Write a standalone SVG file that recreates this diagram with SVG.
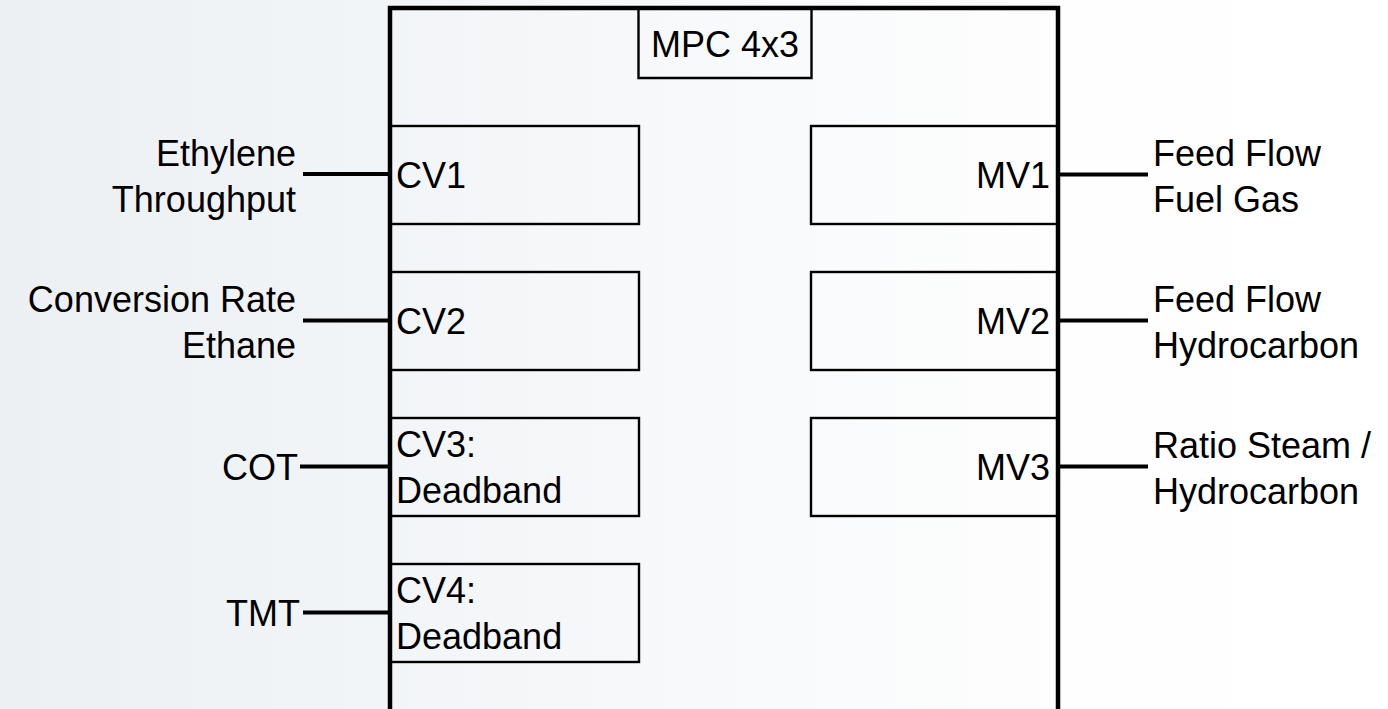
<svg xmlns="http://www.w3.org/2000/svg" width="1388" height="709" viewBox="0 0 1388 709">
  <defs>
    <linearGradient id="bg" x1="0" y1="0" x2="1388" y2="0" gradientUnits="userSpaceOnUse">
      <stop offset="0" stop-color="#ecf0f3"/>
      <stop offset="0.45" stop-color="#f6f8fa"/>
      <stop offset="0.78" stop-color="#fefefe"/>
      <stop offset="1" stop-color="#ffffff"/>
    </linearGradient>
    <style>
      text { font-family: "Liberation Sans", Arial, sans-serif; font-size: 36px; fill: #000; }
      .main { fill: none; stroke: #000; stroke-width: 4.5; }
      .box { fill: none; stroke: #000; stroke-width: 2.4; }
      .conn { stroke: #000; stroke-width: 4; fill: none; }
      .end { text-anchor: end; }
      .mid { text-anchor: middle; }
    </style>
  </defs>
  <rect x="0" y="0" width="1388" height="709" fill="url(#bg)"/>

  <g id="mpc">
    <path class="main" d="M390,720 V8 H1058 V720"/>
  </g>
  <g id="title">
    <path class="box" d="M638.5,8 V78 H811.5 V8"/>
    <text class="mid" x="725" y="57">MPC 4x3</text>
  </g>

  <g id="cv1">
    <rect class="box" x="390" y="126" width="249" height="98"/>
    <text x="396" y="188">CV1</text>
  </g>
  <g id="cv2">
    <rect class="box" x="390" y="272" width="249" height="98"/>
    <text x="396" y="334">CV2</text>
  </g>
  <g id="cv3">
    <rect class="box" x="390" y="418" width="249" height="98"/>
    <text x="396" y="457">CV3:</text>
    <text x="396" y="503">Deadband</text>
  </g>
  <g id="cv4">
    <rect class="box" x="390" y="564" width="249" height="98"/>
    <text x="396" y="603">CV4:</text>
    <text x="396" y="649">Deadband</text>
  </g>

  <g id="mv1">
    <rect class="box" x="811" y="126" width="247" height="98"/>
    <text class="end" x="1050" y="188">MV1</text>
  </g>
  <g id="mv2">
    <rect class="box" x="811" y="272" width="247" height="98"/>
    <text class="end" x="1050" y="334">MV2</text>
  </g>
  <g id="mv3">
    <rect class="box" x="811" y="418" width="247" height="98"/>
    <text class="end" x="1050" y="480">MV3</text>
  </g>

  <g id="connectors">
    <line class="conn" x1="303" y1="174" x2="390" y2="174"/>
    <line class="conn" x1="303" y1="320.5" x2="390" y2="320.5"/>
    <line class="conn" x1="300" y1="466.5" x2="390" y2="466.5"/>
    <line class="conn" x1="303" y1="612.5" x2="390" y2="612.5"/>
    <line class="conn" x1="1058" y1="174.5" x2="1148" y2="174.5"/>
    <line class="conn" x1="1058" y1="320.5" x2="1148" y2="320.5"/>
    <line class="conn" x1="1058" y1="466.5" x2="1148" y2="466.5"/>
  </g>

  <g id="label-ethylene">
    <text class="end" x="296" y="166">Ethylene</text>
    <text class="end" x="296" y="212">Throughput</text>
  </g>
  <g id="label-conversion">
    <text class="end" x="296" y="312">Conversion Rate</text>
    <text class="end" x="296" y="358">Ethane</text>
  </g>
  <g id="label-cot">
    <text class="end" x="298" y="480">COT</text>
  </g>
  <g id="label-tmt">
    <text class="end" x="300" y="626">TMT</text>
  </g>

  <g id="label-feed-fuel">
    <text x="1153" y="166">Feed Flow</text>
    <text x="1153" y="212">Fuel Gas</text>
  </g>
  <g id="label-feed-hc">
    <text x="1153" y="312">Feed Flow</text>
    <text x="1153" y="358">Hydrocarbon</text>
  </g>
  <g id="label-ratio">
    <text x="1153" y="458">Ratio Steam /</text>
    <text x="1153" y="504">Hydrocarbon</text>
  </g>
</svg>
